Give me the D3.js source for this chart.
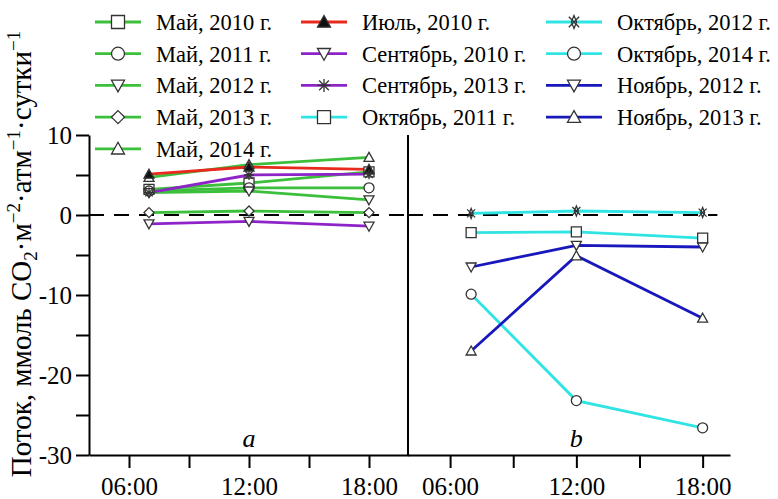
<!DOCTYPE html>
<html>
<head>
<meta charset="utf-8">
<script src="https://cdn.jsdelivr.net/npm/d3@7"></script>
<style>
  body { margin: 0; background: #fff; }
  svg { display: block; font-family: "Liberation Serif", "Times New Roman", serif; }
  .axis path, .axis line { stroke: #000; stroke-width: 2; }
</style>
</head>
<body>
<svg id="chart" width="778" height="499"></svg>
<script>
// hours of measurement
const times = [7, 12, 18];
const xTicks = [6, 12, 18];
const xMinor = [9, 15];
const yTicks = [-30, -20, -10, 0, 10];
const yMinor = [-25, -15, -5, 5];

// panel a: spring / summer
const seriesA = [
    { name: 'Май, 2010 г.',       color: '#3cc03c', shape: 'square',   values: [3.2, 4.0, 5.4] },
    { name: 'Май, 2011 г.',       color: '#3cc03c', shape: 'circle',   values: [3.0, 3.4, 3.4] },
    { name: 'Май, 2012 г.',       color: '#3cc03c', shape: 'itri',     values: [2.8, 3.0, 1.9] },
    { name: 'Май, 2013 г.',       color: '#3cc03c', shape: 'diamond',  values: [0.3, 0.5, 0.3] },
    { name: 'Май, 2014 г.',       color: '#3cc03c', shape: 'tri',      values: [4.7, 6.3, 7.2] },
    { name: 'Июль, 2010 г.',      color: '#e82a1e', shape: 'ftri',     values: [5.1, 6.0, 5.7] },
    { name: 'Сентябрь, 2010 г.',  color: '#8e24c8', shape: 'itri',     values: [-1.1, -0.8, -1.4] },
    { name: 'Сентябрь, 2013 г.',  color: '#8e24c8', shape: 'asterisk', values: [2.8, 5.0, 5.1] }
];

// panel b: autumn
const seriesB = [
    { name: 'Октябрь, 2011 г.', color: '#30e4e4', shape: 'square', values: [-2.2, -2.1, -2.9] },
    { name: 'Октябрь, 2012 г.', color: '#30e4e4', shape: 'star',   values: [0.2, 0.5, 0.3] },
    { name: 'Октябрь, 2014 г.', color: '#30e4e4', shape: 'circle', values: [-9.9, -23.2, -26.6] },
    { name: 'Ноябрь, 2012 г.',  color: '#1818bc', shape: 'itri',   values: [-6.5, -3.8, -4.0] },
    { name: 'Ноябрь, 2013 г.',  color: '#1818bc', shape: 'tri',    values: [-17.0, -5.1, -12.9] }
];

const FONT = '"Liberation Serif", "Times New Roman", serif';
const svg = d3.select('#chart');

const y = d3.scaleLinear().domain([-30, 10]).range([455, 135]);
const xA = d3.scaleLinear().domain([4, 20]).range([89, 409]);
const xB = d3.scaleLinear().domain([4, 19.3]).range([408, 730]);

function markerPath(shape, s) {
    const h = s / 2;
    switch (shape) {
        case 'square': return `M${-h},${-h}H${h}V${h}H${-h}Z`;
        case 'circle': return `M${h},0A${h},${h} 0 1 1 ${-h},0A${h},${h} 0 1 1 ${h},0Z`;
        case 'tri':
        case 'ftri': return `M0,${-h}L${h},${h * 0.8}L${-h},${h * 0.8}Z`;
        case 'itri': return `M0,${h}L${h},${-h * 0.8}L${-h},${-h * 0.8}Z`;
        case 'diamond': return `M0,${-h}L${h},0L0,${h}L${-h},0Z`;
        case 'asterisk': {
            const d = h * 0.75;
            return `M${-h},0H${h}M${-d},${-d}L${d},${d}M${-d},${d}L${d},${-d}M0,${-h}V${h}`;
        }
        case 'star': {
            const d = h * 0.8, i = h * 0.4;
            return `M${-d},${-d}L${d},${d}M${-d},${d}L${d},${-d}` +
                   `M0,${-h}L${i},0L0,${h}L${-i},0Z`;
        }
    }
}

function drawMarker(g, shape, s) {
    g.append('path')
        .attr('d', markerPath(shape, s))
        .attr('fill', shape === 'ftri' ? '#111' : (shape === 'asterisk' || shape === 'star' ? 'none' : '#fff'))
        .attr('stroke', '#333')
        .attr('stroke-width', 1.3);
}

function fmtTime(h) { return d3.format('02d')(h) + ':00'; }

function styleAxis(g) {
    g.attr('font-family', FONT).attr('font-size', 25);
    g.selectAll('text').attr('fill', '#000');
}

// axes
const yAxis = d3.axisLeft(y).tickValues(yTicks).tickSize(13).tickSizeOuter(0).tickPadding(4)
    .tickFormat(d => d < 0 ? '-' + Math.abs(d) : d);
svg.append('g').attr('class', 'axis').attr('transform', 'translate(89,0)').call(yAxis).call(styleAxis);
svg.append('g').attr('class', 'axis').attr('transform', 'translate(89,0)')
    .call(d3.axisLeft(y).tickValues(yMinor).tickSize(13).tickSizeOuter(0).tickFormat(''))
    .select('.domain').remove();

function xAxisFor(x) {
    svg.append('g').attr('class', 'axis').attr('transform', 'translate(0,455)')
        .call(d3.axisBottom(x).tickValues(xTicks).tickSize(13).tickSizeOuter(0).tickPadding(9).tickFormat(fmtTime))
        .call(styleAxis);
    svg.append('g').attr('class', 'axis').attr('transform', 'translate(0,455)')
        .call(d3.axisBottom(x).tickValues(xMinor).tickSize(13).tickSizeOuter(0).tickFormat(''))
        .select('.domain').remove();
}
xAxisFor(xA);
xAxisFor(xB);

// divider between panels
svg.append('line')
    .attr('x1', xB.range()[0]).attr('x2', xB.range()[0])
    .attr('y1', y(10)).attr('y2', y(-30))
    .attr('stroke', '#000').attr('stroke-width', 2);

// zero lines
[xA, xB].forEach((x, i) => {
    svg.append('line')
        .attr('x1', x.range()[0]).attr('x2', i === 0 ? x.range()[1] : x(18.7))
        .attr('y1', y(0)).attr('y2', y(0))
        .attr('stroke', '#000').attr('stroke-width', 2)
        .attr('stroke-dasharray', '15,10');
});

function drawPanel(series, x) {
    const line = d3.line().x((d, i) => x(times[i])).y(d => y(d));
    const g = svg.append('g');
    series.forEach(s => {
        g.append('path')
            .attr('d', line(s.values))
            .attr('fill', 'none')
            .attr('stroke', s.color)
            .attr('stroke-width', 2.8);
    });
    series.forEach(s => {
        s.values.forEach((v, i) => {
            const m = g.append('g').attr('transform', `translate(${x(times[i])},${y(v)})`);
            drawMarker(m, s.shape, 10);
        });
    });
}
drawPanel(seriesA, xA);
drawPanel(seriesB, xB);

// panel letters
svg.append('text').attr('x', xA(12)).attr('y', 447).attr('text-anchor', 'middle')
    .attr('font-size', 26).attr('font-style', 'italic').text('a');
svg.append('text').attr('x', xB(12)).attr('y', 447).attr('text-anchor', 'middle')
    .attr('font-size', 26).attr('font-style', 'italic').text('b');

// legend: three columns
const all = seriesA.concat(seriesB);
const cols = [all.slice(0, 5), all.slice(5, 9), all.slice(9)];
const colX = [95, 301, 546];
const colW = [46, 46, 56];
cols.forEach((items, c) => {
    items.forEach((s, r) => {
        const cy = 22 + r * 31.7;
        const g = svg.append('g').attr('transform', `translate(${colX[c]},${cy})`);
        g.append('line').attr('x1', 0).attr('x2', colW[c]).attr('stroke', s.color).attr('stroke-width', 2.8);
        const m = g.append('g').attr('transform', `translate(${colW[c] / 2},0)`);
        drawMarker(m, s.shape, 13);
        g.append('text').attr('x', colW[c] + 15).attr('y', 8).attr('font-size', 22.5).text(s.name);
    });
});

// y title
const title = svg.append('text')
    .attr('transform', 'translate(31,254) rotate(-90)')
    .attr('text-anchor', 'middle')
    .attr('font-size', 29);
title.append('tspan').text('Поток, ммоль CO');
title.append('tspan').attr('font-size', 19).attr('dy', 6).text('2');
title.append('tspan').attr('dy', -6).text('·м');
title.append('tspan').attr('font-size', 19).attr('dy', -11).text('−2');
title.append('tspan').attr('dy', 11).text('·атм');
title.append('tspan').attr('font-size', 19).attr('dy', -11).text('−1');
title.append('tspan').attr('dy', 11).text('·сутки');
title.append('tspan').attr('font-size', 19).attr('dy', -11).text('−1');
</script>
</body>
</html>
